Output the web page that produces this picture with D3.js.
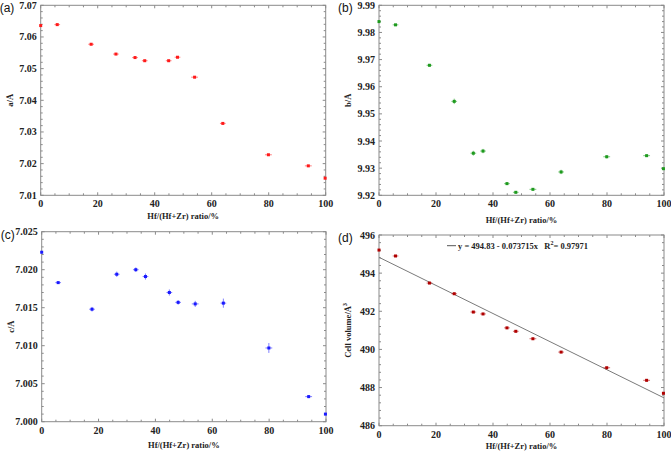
<!DOCTYPE html>
<html lang="en">
<head>
    <meta charset="UTF-8">
    <title>Lattice parameters vs Hf ratio</title>
    <script src="https://d3js.org/d3.v7.min.js"></script>
    <style>
        body { margin: 0; background: white; }
        svg { font-family: "Liberation Serif", "Times New Roman", serif; }
        .tick-label { font-size: 10px; font-weight: bold; fill: #222; }
        .axis-label { font-size: 8.5px; font-weight: bold; fill: #222; }
        .panel-label { font-family: "Liberation Sans", Arial, sans-serif; font-size: 12px; fill: #111; }
    </style>
</head>
<body>
    <svg width="671" height="453"></svg>

    <script>
        // Hf/(Hf+Zr) ratio (%) of the samples
        const hfRatio = [0, 5.8, 17.7, 26.4, 33.1, 36.5, 44.9, 48.0, 54.0, 63.9, 79.9, 93.9, 99.8];
        const xErr = [0.3, 1.0, 1.0, 1.0, 1.0, 1.0, 1.0, 1.0, 1.2, 1.0, 1.2, 1.2, 0.3];

        // lattice parameters
        const latticeA = [7.0636, 7.0639, 7.0577, 7.0546, 7.0535, 7.0525, 7.0525, 7.0536, 7.0473, 7.0327, 7.0228, 7.0193, 7.0154];
        const errA = [0.0002, 0.0002, 0.0002, 0.0003, 0.0002, 0.0002, 0.0002, 0.0003, 0.0002, 0.0002, 0.0002, 0.0002, 0.0002];
        const latticeB = [9.9840, 9.9828, 9.9679, 9.9546, 9.9355, 9.9363, 9.9243, 9.9211, 9.9222, 9.9286, 9.9342, 9.9346, 9.9298];
        const errB = [0.0003, 0.0003, 0.0005, 0.0010, 0.0009, 0.0008, 0.0005, 0.0004, 0.0004, 0.0008, 0.0006, 0.0004, 0.0003];
        const latticeC = [7.0223, 7.0183, 7.0148, 7.0194, 7.0200, 7.0191, 7.0170, 7.0157, 7.0155, 7.0156, 7.0097, 7.0033, 7.0010];
        const errC = [0.0001, 0.0001, 0.0003, 0.00035, 0.0003, 0.0004, 0.0004, 0.0003, 0.0004, 0.0006, 0.00065, 0.0002, 0.0001];
        const cellVolume = [495.21, 494.90, 493.48, 492.92, 491.96, 491.86, 491.13, 490.95, 490.56, 489.86, 489.04, 488.38, 487.70];
        const errV = [0.04, 0.04, 0.04, 0.05, 0.04, 0.04, 0.04, 0.05, 0.04, 0.04, 0.04, 0.05, 0.04];

        // linear fit shown in (d)
        const fitIntercept = 494.83;
        const fitSlope = -0.073715;
        const fitText = "y = 494.83 - 0.073715x";
        const fitR2 = "0.97971";

        const xTicks = [0, 20, 40, 60, 80, 100];

        const panels = [
            { label: "(a)", ylab: "a/Å", values: latticeA, err: errA, domain: [7.01, 7.07], step: 0.01, fmt: ".2f",
              color: "#ff1a1a", box: [40.7, 325.7, 5.3, 195.3], xlabY: 219 },
            { label: "(b)", ylab: "b/Å", values: latticeB, err: errB, domain: [9.92, 9.99], step: 0.01, fmt: ".2f",
              color: "#1e9a1e", box: [379, 664, 5.3, 195.3], xlabY: 223 },
            { label: "(c)", ylab: "c/Å", values: latticeC, err: errC, domain: [7.000, 7.025], step: 0.005, fmt: ".3f",
              color: "#1a1aff", box: [41.7, 326, 231.7, 421.7], xlabY: 448 },
            { label: "(d)", ylab: "Cell volume/Å", sup: "3", values: cellVolume, err: errV, domain: [486, 496], step: 2, fmt: "d",
              color: "#b00000", box: [379, 664, 235, 425.7], xlabY: 449, fit: true }
        ];

        const svg = d3.select("svg");

        panels.forEach(p => {
            const [x0, x1, y0, y1] = p.box;
            const g = svg.append("g");

            const x = d3.scaleLinear().domain([0, 100]).range([x0, x1]);
            const y = d3.scaleLinear().domain(p.domain).range([y1, y0]);

            const nMajor = Math.round((p.domain[1] - p.domain[0]) / p.step);
            const yTicks = d3.range(nMajor + 1).map(i => p.domain[0] + i * p.step);
            const yMinor = d3.range(nMajor * 5 + 1).map(i => p.domain[0] + i * p.step / 5);
            const xMinor = d3.range(21).map(i => i * 5);

            // frame
            g.append("rect")
                .attr("x", x0).attr("y", y0)
                .attr("width", x1 - x0).attr("height", y1 - y0)
                .attr("fill", "none").attr("stroke", "#8a8a8a").attr("stroke-width", 1);

            // inward ticks on all four sides
            const tickCol = "#8a8a8a";
            xMinor.forEach(v => {
                const len = v % 20 === 0 ? 3 : 2;
                g.append("line").attr("x1", x(v)).attr("x2", x(v)).attr("y1", y1).attr("y2", y1 - len).attr("stroke", tickCol);
                g.append("line").attr("x1", x(v)).attr("x2", x(v)).attr("y1", y0).attr("y2", y0 + len).attr("stroke", tickCol);
            });
            yMinor.forEach((v, i) => {
                const len = i % 5 === 0 ? 3 : 2;
                g.append("line").attr("y1", y(v)).attr("y2", y(v)).attr("x1", x0).attr("x2", x0 + len).attr("stroke", tickCol);
                g.append("line").attr("y1", y(v)).attr("y2", y(v)).attr("x1", x1).attr("x2", x1 - len).attr("stroke", tickCol);
            });

            // tick labels
            g.selectAll(".xt").data(xTicks).join("text")
                .attr("class", "tick-label")
                .attr("x", d => x(d)).attr("y", y1 + 12)
                .attr("text-anchor", "middle")
                .text(d => d);
            g.selectAll(".yt").data(yTicks).join("text")
                .attr("class", "tick-label")
                .attr("x", x0 - 4).attr("y", d => y(d) + 3.5)
                .attr("text-anchor", "end")
                .text(d => d3.format(p.fmt)(d));

            // axis labels
            g.append("text")
                .attr("class", "axis-label")
                .attr("x", (x0 + x1) / 2).attr("y", p.xlabY)
                .attr("text-anchor", "middle")
                .text("Hf/(Hf+Zr) ratio/%");

            const yl = g.append("text")
                .attr("class", "axis-label")
                .attr("font-size", "9.5px")
                .attr("transform", `translate(${x0 - 28},${(y0 + y1) / 2}) rotate(-90)`)
                .attr("text-anchor", "middle")
                .text(p.ylab);
            if (p.sup) {
                yl.append("tspan").attr("font-size", "6.5px").attr("dy", -4).text(p.sup);
            }

            // panel label
            g.append("text")
                .attr("class", "panel-label")
                .attr("x", x0 - 41).attr("y", y0 + 7)
                .text(p.label);

            // fit line and legend
            if (p.fit) {
                g.append("line")
                    .attr("x1", x(0)).attr("y1", y(fitIntercept))
                    .attr("x2", x(100)).attr("y2", y(fitIntercept + fitSlope * 100))
                    .attr("stroke", "#7a7a7a").attr("stroke-width", 1);
                g.append("line")
                    .attr("x1", 447).attr("x2", 456).attr("y1", 245.7).attr("y2", 245.7)
                    .attr("stroke", "#555").attr("stroke-width", 1);
                const t = g.append("text")
                    .attr("class", "axis-label")
                    .attr("font-size", "9px")
                    .attr("x", 458).attr("y", 249)
                    .attr("xml:space", "preserve")
                    .text(fitText + "   R");
                t.append("tspan").attr("font-size", "6px").attr("dy", -4).text("2");
                t.append("tspan").attr("dy", 4).text("= " + fitR2);
            }

            // points with error bars
            const pts = hfRatio.map((h, i) => ({ h, v: p.values[i], ex: xErr[i], ey: p.err[i] }));
            const errCol = d3.color(p.color).copy({ opacity: 0.55 });

            g.selectAll(".ex").data(pts).join("line")
                .attr("x1", d => x(Math.max(0, d.h - d.ex))).attr("x2", d => x(Math.min(100, d.h + d.ex)))
                .attr("y1", d => y(d.v)).attr("y2", d => y(d.v))
                .attr("stroke", errCol).attr("stroke-width", 1);
            g.selectAll(".ey").data(pts).join("line")
                .attr("x1", d => x(d.h)).attr("x2", d => x(d.h))
                .attr("y1", d => y(d.v - d.ey)).attr("y2", d => y(d.v + d.ey))
                .attr("stroke", errCol).attr("stroke-width", 1);
            g.selectAll(".pt").data(pts).join("rect")
                .attr("x", d => x(d.h) - 1.5).attr("y", d => y(d.v) - 1.5)
                .attr("width", 3).attr("height", 3)
                .attr("fill", p.color);
        });
    </script>
</body>
</html>
